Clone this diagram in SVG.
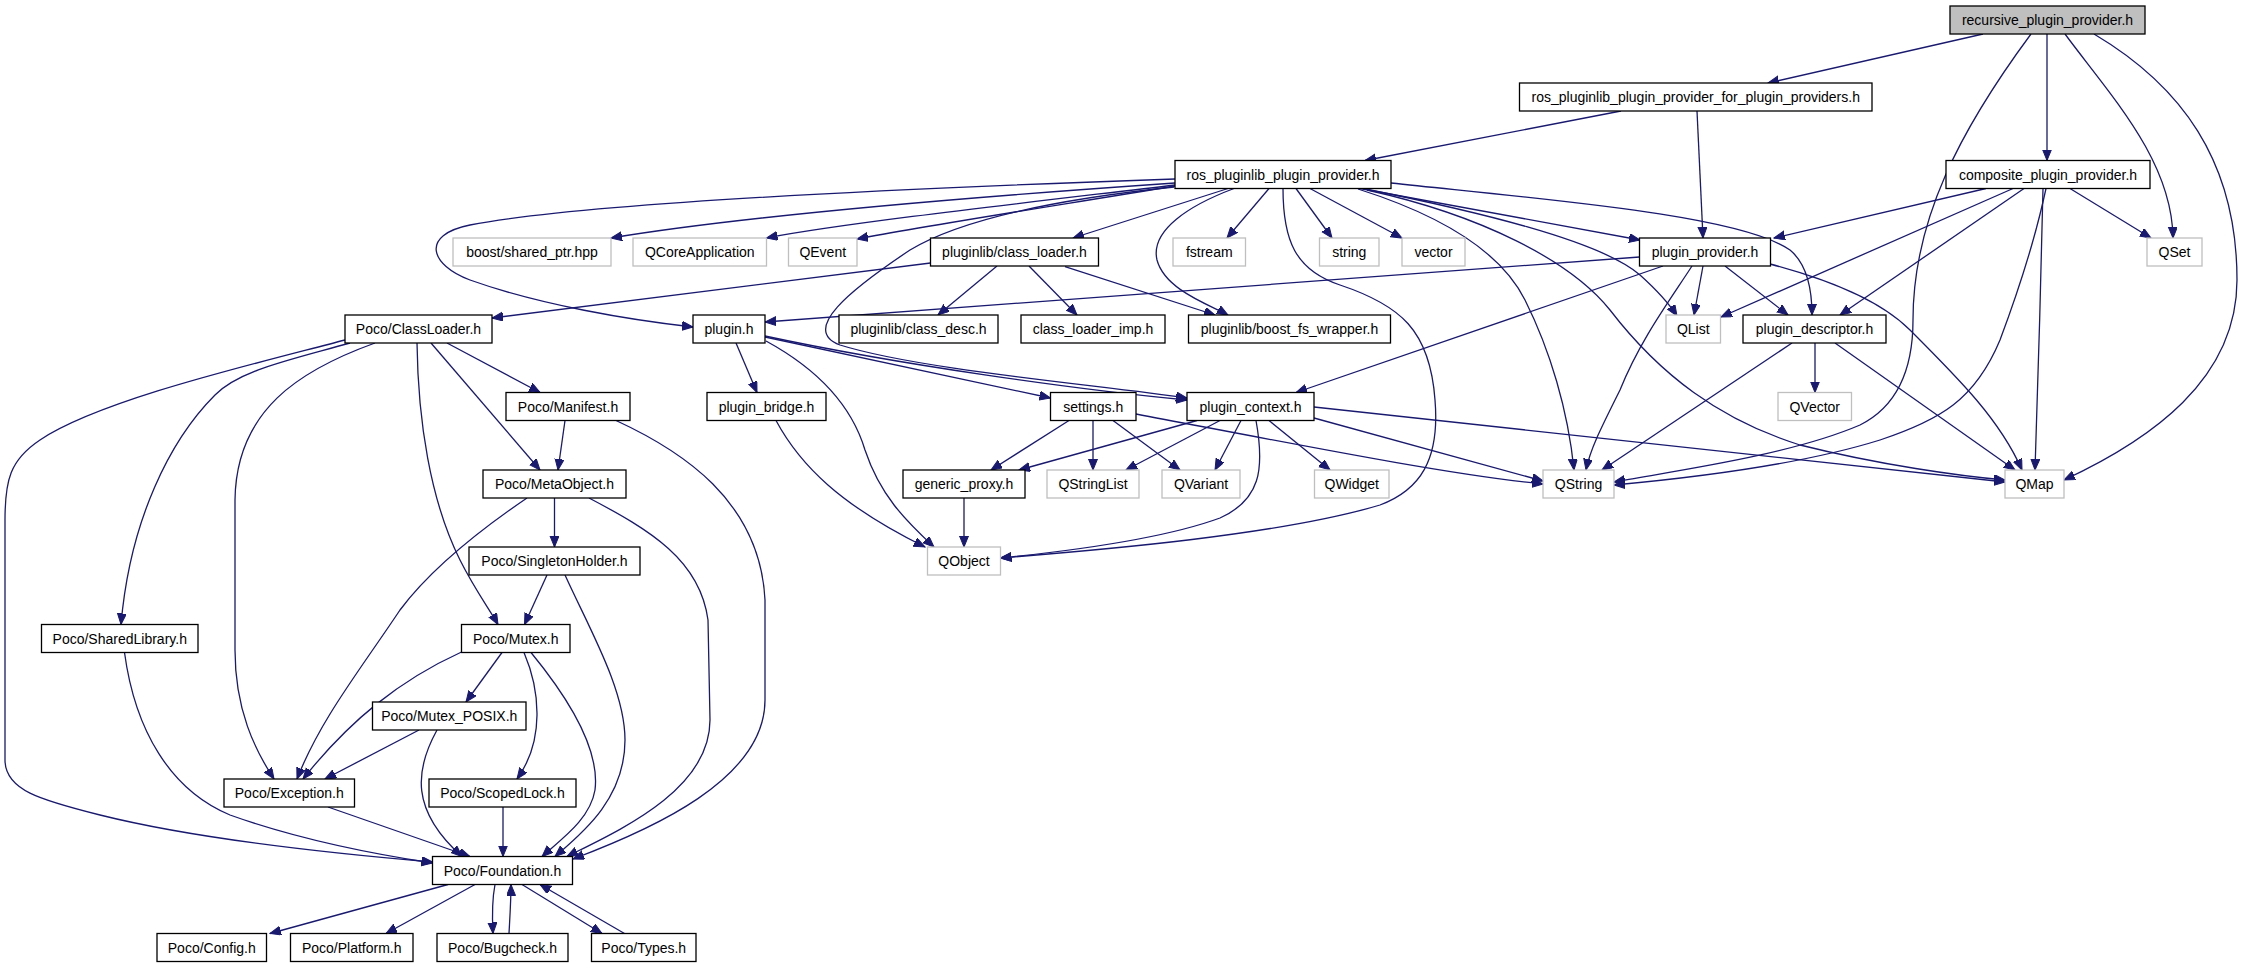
<svg xmlns="http://www.w3.org/2000/svg" width="2244" height="968" viewBox="0 0 2244 968">
<style>
.n rect{fill:#fff;stroke:#000;stroke-width:1.3}
.x rect{fill:#fff;stroke:#bfbfbf;stroke-width:1.3}
.r rect{fill:#bfbfbf;stroke:#000;stroke-width:1.3}
text{font-family:"Liberation Sans",Arial,sans-serif;font-size:14px;text-anchor:middle;fill:#000}
#edges path{fill:none;stroke:#191970;stroke-width:1.3;marker-end:url(#a)}
</style>
<defs>
<marker id="a" markerUnits="userSpaceOnUse" markerWidth="12" markerHeight="10" refX="11" refY="4.5" orient="auto"><path d="M0,0 L11,4.5 L0,9 z" fill="#191970" stroke="#191970" stroke-width="1"/></marker>
</defs>
<rect width="2244" height="968" fill="#fff"/>
<g id="edges">
<path d="M1983,34 L1768,83"/>
<path d="M2047,34 L2047,160.5"/>
<path d="M2065,34 C2110,95 2172,160 2173,238"/>
<path d="M2094,34 C2180,85 2237,160 2237,280 C2237,380 2150,440 2064,480"/>
<path d="M2031,34 C1960,130 1913,220 1913,320 C1913,380 1890,410 1860,425 C1790,455 1680,470 1614,482"/>
<path d="M1621,111 L1365,160.5"/>
<path d="M1697,111 L1703,238"/>
<path d="M1986,188.5 L1774,238"/>
<path d="M2070,188.5 L2151,238"/>
<path d="M2013,188.5 L1721,317"/>
<path d="M2024,188.5 L1840,315"/>
<path d="M2046,188.5 C2035,240 2015,300 2000,340 C1975,400 1940,420 1880,440 C1800,465 1690,478 1614,485"/>
<path d="M2043,188.5 C2041,280 2038,380 2035,470"/>
<path d="M1175,183 C1000,195 750,215 611,238"/>
<path d="M1175,185 C1050,200 850,222 766.5,238"/>
<path d="M1175,186 C1060,205 930,225 857,239"/>
<path d="M1228,188.5 L1073,238"/>
<path d="M1175,179 C1000,185 600,200 470,225 C420,235 430,265 470,280 C540,305 630,320 693,327"/>
<path d="M1174,187 C1050,200 960,220 910,250 C850,290 800,330 840,345 C920,370 1100,385 1187,398"/>
<path d="M1234,188.5 C1190,205 1150,230 1157,260 C1165,290 1210,305 1228,315"/>
<path d="M1269,188.5 L1227,238"/>
<path d="M1296,188.5 L1332,238"/>
<path d="M1310,188.5 L1402,238"/>
<path d="M1360,188.5 L1640,240"/>
<path d="M1363,188.5 C1470,210 1600,240 1640,275 C1660,293 1670,305 1677,316"/>
<path d="M1391,183 C1550,200 1740,215 1790,250 C1808,265 1812,290 1812,315"/>
<path d="M1367,190 C1480,215 1570,260 1610,310 C1660,375 1720,420 1800,445 C1880,465 1960,476 2005,480"/>
<path d="M1358,189 C1440,215 1500,250 1525,300 C1550,350 1568,410 1574,470"/>
<path d="M1283,188.5 C1283,240 1295,270 1340,285 C1400,305 1430,330 1435,400 C1440,460 1420,490 1380,505 C1280,535 1100,550 1000.5,558"/>
<path d="M1639.5,257 L765,322"/>
<path d="M1663,266 L1296,392.5"/>
<path d="M1692,266 C1670,300 1640,340 1620,390 C1600,430 1590,450 1586,470"/>
<path d="M1703,266 L1694,315"/>
<path d="M1725,266 L1788,315"/>
<path d="M1770,264 C1830,280 1880,300 1910,330 C1960,380 2000,420 2022,470"/>
<path d="M930.5,263 L492,318"/>
<path d="M997,266 L938,315"/>
<path d="M1029,266 L1077,315"/>
<path d="M1065,266.7 L1215,315"/>
<path d="M736,343 L757,392.5"/>
<path d="M766,341 C810,365 850,400 865,450 C880,495 905,520 934,547"/>
<path d="M765,337 L1050.5,398"/>
<path d="M765,336 C900,365 1080,390 1187,400"/>
<path d="M776,420.5 C800,465 840,505 925,547"/>
<path d="M964,498 L964,547"/>
<path d="M1069,420.5 L991,470"/>
<path d="M1093,420.5 L1093,470"/>
<path d="M1113,420.5 L1180,470"/>
<path d="M1136,414 C1300,445 1450,475 1543,484"/>
<path d="M1197,420.5 L1019,470"/>
<path d="M1220,420.5 L1126,470"/>
<path d="M1241,420.5 L1215,470"/>
<path d="M1269,420.5 L1330,470"/>
<path d="M1256,420.5 C1265,470 1260,500 1220,518 C1160,540 1060,552 1000.5,558"/>
<path d="M1314,418 L1543,481"/>
<path d="M1314,407 L2005,482"/>
<path d="M1815,343 L1815,392.5"/>
<path d="M1792,343 L1602,470"/>
<path d="M1835,343 L2015,470"/>
<path d="M447,343 L540,392.5"/>
<path d="M431,343 L540,470"/>
<path d="M417,343 C418,420 430,500 460,560 C475,590 490,610 498,624.5"/>
<path d="M375,343 C300,370 236,410 235,500 L235,650 C235,710 255,750 274,779"/>
<path d="M350,343 C290,360 240,370 215,395 C170,440 130,520 121,624.5"/>
<path d="M345,340 C250,365 100,400 40,440 C10,460 5,480 5,520 L5,760 C5,790 40,800 100,815 C200,840 350,855 432.5,862"/>
<path d="M565,420.5 L558,470"/>
<path d="M616,420.5 C680,450 760,500 765,600 L765,700 C765,780 650,830 573,859"/>
<path d="M554.5,498 L554.5,547"/>
<path d="M527,498 C480,530 430,570 400,610 C360,670 320,720 297,779"/>
<path d="M589,498 C650,530 700,560 708,620 L710,720 C710,790 620,830 567,856.5"/>
<path d="M547,575 L524.5,624.5"/>
<path d="M565,575 C590,630 625,690 625,740 C625,800 580,835 555,856.5"/>
<path d="M461.5,652 C400,680 350,720 303,779"/>
<path d="M502,652.5 L466,702"/>
<path d="M524,652.5 C540,690 545,740 517,779"/>
<path d="M531,652.5 C570,700 600,750 595,790 C590,820 560,840 542,856.5"/>
<path d="M419,730 L325,779"/>
<path d="M437,730 C415,770 410,810 462,856.5"/>
<path d="M503,807 L503,856.5"/>
<path d="M328,807 L470,856.5"/>
<path d="M124.5,652.5 C135,730 170,790 230,815 C300,840 380,855 432.5,863"/>
<path d="M448,884.5 L270,933.5"/>
<path d="M475,884.5 L386,933.5"/>
<path d="M495,884.5 C492,900 492,915 493,933.5"/>
<path d="M509,933.5 C510,915 511,900 511,884.5"/>
<path d="M522,884.5 L602,933.5"/>
<path d="M624.5,933.5 L540,884.5"/>
</g>
<g id="recursive" class="r"><rect x="1950" y="6" width="195" height="28"/><text x="2047.5" y="25">recursive_plugin_provider.h</text></g>
<g id="rosfor" class="n"><rect x="1519.5" y="83" width="352.5" height="28"/><text x="1695.75" y="102">ros_pluginlib_plugin_provider_for_plugin_providers.h</text></g>
<g id="ros" class="n"><rect x="1175" y="160.5" width="216" height="28"/><text x="1283" y="179.5">ros_pluginlib_plugin_provider.h</text></g>
<g id="composite" class="n"><rect x="1946" y="160.5" width="204" height="28"/><text x="2048" y="179.5">composite_plugin_provider.h</text></g>
<g id="boostsp" class="x"><rect x="453" y="238" width="158" height="28"/><text x="532" y="257">boost/shared_ptr.hpp</text></g>
<g id="qcore" class="x"><rect x="633" y="238" width="133.5" height="28"/><text x="699.75" y="257">QCoreApplication</text></g>
<g id="qevent" class="x"><rect x="788.5" y="238" width="68.5" height="28"/><text x="822.75" y="257">QEvent</text></g>
<g id="classloader" class="n"><rect x="930.5" y="238" width="168" height="28"/><text x="1014.5" y="257">pluginlib/class_loader.h</text></g>
<g id="fstream" class="x"><rect x="1173" y="238" width="72.5" height="28"/><text x="1209.25" y="257">fstream</text></g>
<g id="string" class="x"><rect x="1319.5" y="238" width="59.5" height="28"/><text x="1349.25" y="257">string</text></g>
<g id="vector" class="x"><rect x="1402" y="238" width="63" height="28"/><text x="1433.5" y="257">vector</text></g>
<g id="pluginprovider" class="n"><rect x="1639.5" y="238" width="131" height="28"/><text x="1705" y="257">plugin_provider.h</text></g>
<g id="qset" class="x"><rect x="2147" y="238" width="55" height="28"/><text x="2174.5" y="257">QSet</text></g>
<g id="pococl" class="n"><rect x="345" y="315" width="147" height="28"/><text x="418.5" y="334">Poco/ClassLoader.h</text></g>
<g id="pluginh" class="n"><rect x="693" y="315" width="72" height="28"/><text x="729" y="334">plugin.h</text></g>
<g id="classdesc" class="n"><rect x="839" y="315" width="159" height="28"/><text x="918.5" y="334">pluginlib/class_desc.h</text></g>
<g id="climp" class="n"><rect x="1021" y="315" width="144" height="28"/><text x="1093" y="334">class_loader_imp.h</text></g>
<g id="bfs" class="n"><rect x="1188.5" y="315" width="202" height="28"/><text x="1289.5" y="334">pluginlib/boost_fs_wrapper.h</text></g>
<g id="qlist" class="x"><rect x="1666" y="315" width="54.5" height="28"/><text x="1693.25" y="334">QList</text></g>
<g id="pdesc" class="n"><rect x="1743" y="315" width="143" height="28"/><text x="1814.5" y="334">plugin_descriptor.h</text></g>
<g id="manifest" class="n"><rect x="506" y="392.5" width="124" height="28"/><text x="568" y="411.5">Poco/Manifest.h</text></g>
<g id="bridge" class="n"><rect x="707" y="392.5" width="119" height="28"/><text x="766.5" y="411.5">plugin_bridge.h</text></g>
<g id="settings" class="n"><rect x="1050.5" y="392.5" width="85.5" height="28"/><text x="1093.25" y="411.5">settings.h</text></g>
<g id="pctx" class="n"><rect x="1187" y="392.5" width="127" height="28"/><text x="1250.5" y="411.5">plugin_context.h</text></g>
<g id="qvector" class="x"><rect x="1778" y="392.5" width="73.5" height="28"/><text x="1814.75" y="411.5">QVector</text></g>
<g id="meta" class="n"><rect x="483" y="470" width="143" height="28"/><text x="554.5" y="489">Poco/MetaObject.h</text></g>
<g id="gproxy" class="n"><rect x="903" y="470" width="122" height="28"/><text x="964" y="489">generic_proxy.h</text></g>
<g id="qsl" class="x"><rect x="1047" y="470" width="92" height="28"/><text x="1093" y="489">QStringList</text></g>
<g id="qvar" class="x"><rect x="1162" y="470" width="78" height="28"/><text x="1201" y="489">QVariant</text></g>
<g id="qwidget" class="x"><rect x="1314.5" y="470" width="74.5" height="28"/><text x="1351.75" y="489">QWidget</text></g>
<g id="qstring" class="x"><rect x="1543" y="470" width="71" height="28"/><text x="1578.5" y="489">QString</text></g>
<g id="qmap" class="x"><rect x="2005" y="470" width="59" height="28"/><text x="2034.5" y="489">QMap</text></g>
<g id="singleton" class="n"><rect x="469" y="547" width="171" height="28"/><text x="554.5" y="566">Poco/SingletonHolder.h</text></g>
<g id="qobject" class="x"><rect x="927.5" y="547" width="73" height="28"/><text x="964" y="566">QObject</text></g>
<g id="shlib" class="n"><rect x="41.5" y="624.5" width="156.5" height="28"/><text x="119.75" y="643.5">Poco/SharedLibrary.h</text></g>
<g id="mutex" class="n"><rect x="461.5" y="624.5" width="108.5" height="28"/><text x="515.75" y="643.5">Poco/Mutex.h</text></g>
<g id="posix" class="n"><rect x="372.5" y="702" width="153.5" height="28"/><text x="449.25" y="721">Poco/Mutex_POSIX.h</text></g>
<g id="exception" class="n"><rect x="224" y="779" width="130.5" height="28"/><text x="289.25" y="798">Poco/Exception.h</text></g>
<g id="scoped" class="n"><rect x="429" y="779" width="147" height="28"/><text x="502.5" y="798">Poco/ScopedLock.h</text></g>
<g id="foundation" class="n"><rect x="432.5" y="856.5" width="140" height="28"/><text x="502.5" y="875.5">Poco/Foundation.h</text></g>
<g id="config" class="n"><rect x="157" y="933.5" width="109.5" height="28"/><text x="211.75" y="952.5">Poco/Config.h</text></g>
<g id="platform" class="n"><rect x="290.5" y="933.5" width="122.5" height="28"/><text x="351.75" y="952.5">Poco/Platform.h</text></g>
<g id="bugcheck" class="n"><rect x="437" y="933.5" width="131" height="28"/><text x="502.5" y="952.5">Poco/Bugcheck.h</text></g>
<g id="types" class="n"><rect x="591.5" y="933.5" width="104.5" height="28"/><text x="643.75" y="952.5">Poco/Types.h</text></g>
</svg>
